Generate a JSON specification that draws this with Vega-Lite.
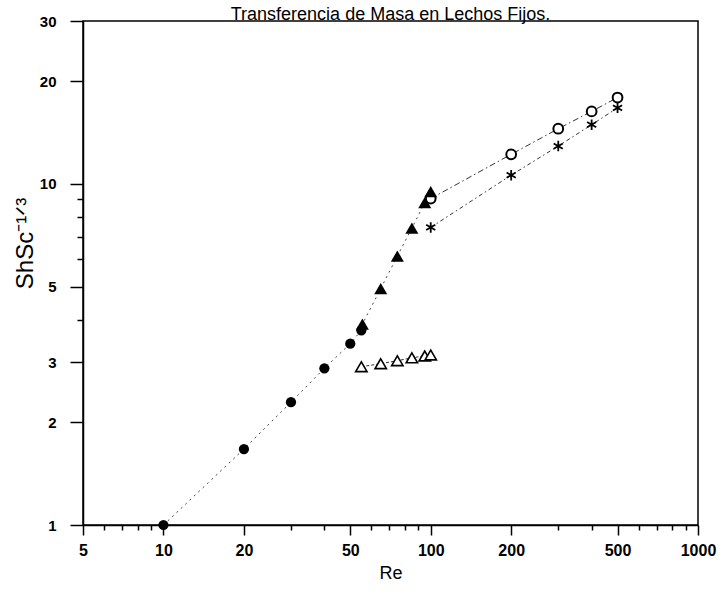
{
  "$schema": "https://vega.github.io/schema/vega-lite/v6.json",
  "width": 615,
  "height": 504,
  "autosize": {"type": "none"},
  "padding": {"left": 83, "top": 21, "right": 22, "bottom": 66},
  "background": "white",
  "title": {
    "text": "Transferencia de Masa en Lechos Fijos.",
    "font": "Liberation Sans",
    "fontSize": 18,
    "fontWeight": "normal",
    "color": "black",
    "anchor": "middle",
    "baseline": "alphabetic",
    "offset": -24
  },
  "config": {
    "view": {"stroke": "black", "strokeWidth": 1.5},
    "axis": {
      "grid": false,
      "domainColor": "black",
      "domainWidth": 1.5,
      "tickColor": "black",
      "tickWidth": 1.5,
      "labelColor": "black",
      "labelFont": "Liberation Sans",
      "labelFontWeight": "bold",
      "labelFontSize": 15,
      "labelOverlap": false,
      "labelFlush": false,
      "titleFont": "Liberation Sans",
      "titleFontWeight": "normal",
      "titleColor": "black"
    }
  },
  "data": {
    "values": [
      {"serie": "circulo_lleno", "Re": 10, "Sh": 1.0},
      {"serie": "circulo_lleno", "Re": 20, "Sh": 1.67},
      {"serie": "circulo_lleno", "Re": 30, "Sh": 2.29},
      {"serie": "circulo_lleno", "Re": 40, "Sh": 2.88},
      {"serie": "circulo_lleno", "Re": 50, "Sh": 3.40},
      {"serie": "circulo_lleno", "Re": 55, "Sh": 3.72},
      {"serie": "triangulo_lleno", "Re": 55.5, "Sh": 3.88},
      {"serie": "triangulo_lleno", "Re": 65, "Sh": 4.93},
      {"serie": "triangulo_lleno", "Re": 75, "Sh": 6.14},
      {"serie": "triangulo_lleno", "Re": 85, "Sh": 7.41},
      {"serie": "triangulo_lleno", "Re": 95, "Sh": 8.81},
      {"serie": "triangulo_lleno", "Re": 100, "Sh": 9.48},
      {"serie": "circulo_abierto", "Re": 100, "Sh": 9.05},
      {"serie": "circulo_abierto", "Re": 200, "Sh": 12.2},
      {"serie": "circulo_abierto", "Re": 300, "Sh": 14.5},
      {"serie": "circulo_abierto", "Re": 400, "Sh": 16.3},
      {"serie": "circulo_abierto", "Re": 500, "Sh": 17.9},
      {"serie": "asterisco", "Re": 100, "Sh": 7.45},
      {"serie": "asterisco", "Re": 200, "Sh": 10.6},
      {"serie": "asterisco", "Re": 300, "Sh": 12.9},
      {"serie": "asterisco", "Re": 400, "Sh": 14.9},
      {"serie": "asterisco", "Re": 500, "Sh": 16.7},
      {"serie": "triangulo_abierto", "Re": 55, "Sh": 2.91},
      {"serie": "triangulo_abierto", "Re": 65, "Sh": 2.97},
      {"serie": "triangulo_abierto", "Re": 75, "Sh": 3.03},
      {"serie": "triangulo_abierto", "Re": 85, "Sh": 3.09},
      {"serie": "triangulo_abierto", "Re": 95, "Sh": 3.13},
      {"serie": "triangulo_abierto", "Re": 100, "Sh": 3.15}
    ]
  },
  "encoding": {
    "x": {
      "field": "Re",
      "type": "quantitative",
      "scale": {"type": "log", "domain": [5, 1000], "nice": false},
      "axis": {
        "title": "Re",
        "titleFontSize": 18,
        "titlePadding": 6,
        "format": "d",
        "values": [5, 6, 7, 8, 9, 10, 20, 30, 40, 50, 60, 70, 80, 90, 100, 200, 300, 400, 500, 600, 700, 800, 900, 1000],
        "labelExpr": "indexof([5,10,20,50,100,200,500,1000], datum.value) >= 0 ? datum.label : ''",
        "tickSize": {"condition": {"test": "indexof([5,10,20,50,100,200,500,1000], datum.value) >= 0", "value": 10}, "value": 5},
        "labelPadding": 7,
        "labelFontSize": 16
      }
    },
    "y": {
      "field": "Sh",
      "type": "quantitative",
      "scale": {"type": "log", "domain": [1, 30], "nice": false},
      "axis": {
        "title": "ShSc⁻¹ᐟ³",
        "titleFontSize": 24,
        "titleAngle": -90,
        "titleX": -58,
        "titleY": 222,
        "titleAlign": "center",
        "titleBaseline": "middle",
        "format": "d",
        "values": [1, 2, 3, 4, 5, 6, 7, 8, 9, 10, 20, 30],
        "labelExpr": "indexof([1,2,3,5,10,20,30], datum.value) >= 0 ? datum.label : ''",
        "tickSize": {"condition": {"test": "indexof([1,2,3,5,10,20,30], datum.value) >= 0", "value": 13}, "value": 6},
        "labelPadding": 14
      }
    }
  },
  "layer": [
    {
      "transform": [{"filter": "datum.serie === 'circulo_lleno' || datum.serie === 'triangulo_lleno'"}],
      "mark": {"type": "line", "color": "#444", "strokeWidth": 1, "strokeDash": [2, 4]}
    },
    {
      "transform": [{"filter": "datum.serie === 'circulo_abierto'"}],
      "mark": {"type": "line", "color": "#333", "strokeWidth": 1, "strokeDash": [6, 3, 1.5, 3]}
    },
    {
      "transform": [{"filter": "datum.serie === 'asterisco'"}],
      "mark": {"type": "line", "color": "#333", "strokeWidth": 1, "strokeDash": [4, 3, 1.5, 3]}
    },
    {
      "transform": [{"filter": "datum.serie === 'triangulo_abierto'"}],
      "mark": {"type": "line", "color": "#333", "strokeWidth": 1, "strokeDash": [3, 2]}
    },
    {
      "transform": [{"filter": "datum.serie === 'triangulo_abierto'"}],
      "mark": {"type": "point", "shape": "triangle-up", "filled": false, "fill": "white", "fillOpacity": 1, "stroke": "black", "strokeWidth": 1.6, "size": 130, "opacity": 1}
    },
    {
      "transform": [{"filter": "datum.serie === 'circulo_abierto'"}],
      "mark": {"type": "point", "shape": "circle", "filled": false, "fill": "white", "fillOpacity": 1, "stroke": "black", "strokeWidth": 2, "size": 95, "opacity": 1}
    },
    {
      "transform": [{"filter": "datum.serie === 'asterisco'"}],
      "mark": {"type": "point", "shape": "M0,-1L0,1M-0.87,-0.5L0.87,0.5M-0.87,0.5L0.87,-0.5", "filled": false, "stroke": "black", "strokeWidth": 1.8, "size": 110, "opacity": 1}
    },
    {
      "transform": [{"filter": "datum.serie === 'circulo_lleno'"}],
      "mark": {"type": "point", "shape": "circle", "filled": true, "color": "black", "size": 105, "opacity": 1}
    },
    {
      "transform": [{"filter": "datum.serie === 'triangulo_lleno'"}],
      "mark": {"type": "point", "shape": "triangle-up", "filled": true, "color": "black", "size": 170, "opacity": 1}
    }
  ]
}
